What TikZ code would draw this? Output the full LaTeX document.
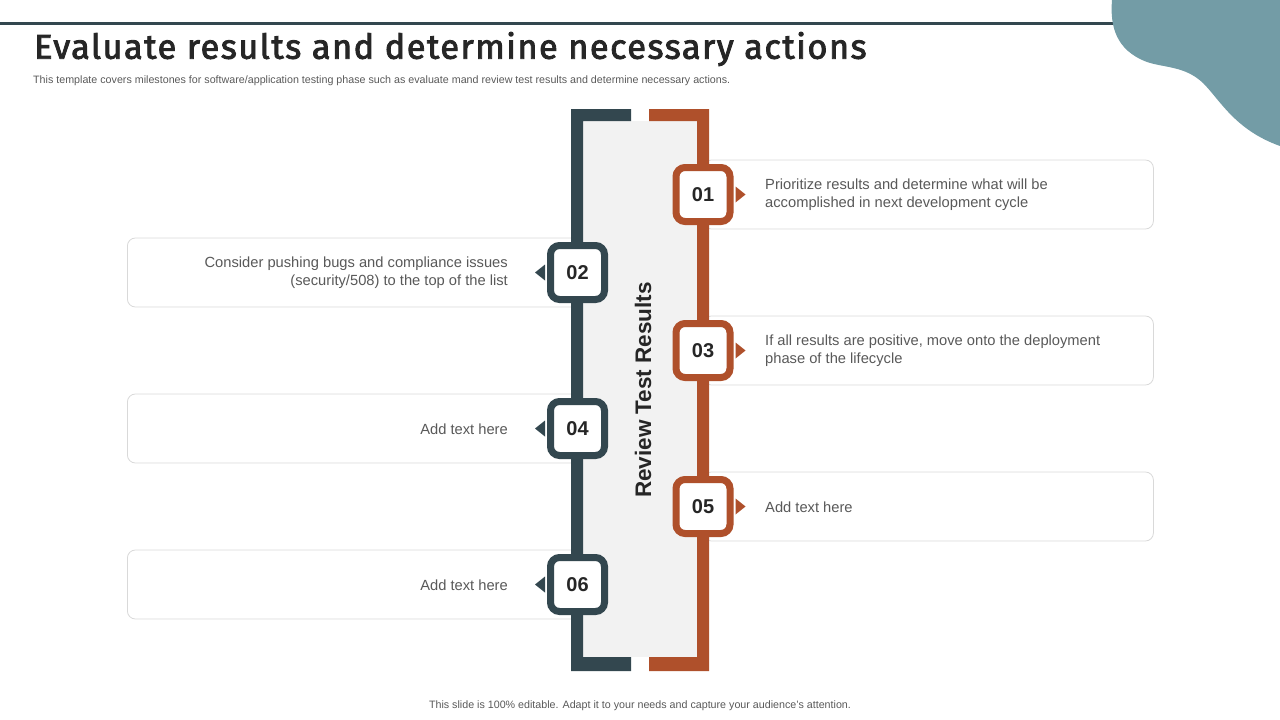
\documentclass[tikz,border=0pt]{standalone}
\usepackage{fontspec}
\setmainfont{Liberation Sans}
\newfontfamily\titlefont{Fira Sans}[LetterSpace=4.4,FakeBold=2.5]
\usetikzlibrary{positioning}
\definecolor{darkslate}{HTML}{33474F}
\definecolor{rust}{HTML}{AF502B}
\definecolor{blob}{HTML}{739CA6}
\definecolor{panel}{HTML}{F2F2F2}
\definecolor{boxline}{HTML}{D9D9D9}
\definecolor{bodytext}{HTML}{595959}
\definecolor{ink}{HTML}{262626}
\tikzset{
  x=1pt, y=-1pt,
  infobox/.style={draw=boxline, line width=0.8pt, fill=white, rounded corners=8pt,
    minimum height=69pt, inner sep=0pt, anchor=west},
  badge/.style={draw=#1, line width=7pt, fill=white, rounded corners=9pt,
    minimum width=54pt, minimum height=54pt, inner sep=0pt,
    font=\fontsize{20}{20}\selectfont\bfseries, text=ink},
  righttext/.style={anchor=west, align=left, text=bodytext, font=\fontsize{14.7}{18}\selectfont, inner sep=0pt},
  lefttext/.style={anchor=east, align=right, text=bodytext, font=\fontsize{14.7}{18}\selectfont, inner sep=0pt},
}
\begin{document}
\begin{tikzpicture}
\useasboundingbox (0,0) rectangle (1280,720);
% top rule and blob
\fill[darkslate] (0,21.5) rectangle (1120,24.5);
\fill[blob] (1112,0) .. controls (1110,25) and (1115,50) .. (1147,62)
  .. controls (1165,68) and (1185,66) .. (1203,83)
  .. controls (1220,100) and (1235,130) .. (1280,146) -- (1280,0) -- cycle;
% title and subtitle
\node[anchor=west, inner sep=0pt, text=ink, font=\titlefont\fontsize{34.3}{34}\selectfont] (title) at (34,49)
  {Evaluate results and determine necessary actions};
\node[anchor=west, inner sep=0pt, text=bodytext, font=\fontsize{10.7}{11}\selectfont] (subtitle) at (33,81)
  {This template covers milestones for software/application testing phase such as evaluate mand review test results and determine necessary actions.};
% info boxes
\node[infobox, minimum width=450pt] (b1) at (703,194.5) {};
\node[infobox, minimum width=450pt] (b3) at (703,350.5) {};
\node[infobox, minimum width=450pt] (b5) at (703,506.5) {};
\node[infobox, minimum width=455pt] (b2) at (127,272.5) {};
\node[infobox, minimum width=455pt] (b4) at (127,428.5) {};
\node[infobox, minimum width=455pt] (b6) at (127,584.5) {};
% panel
\fill[panel] (583,121) rectangle (697,657);
% brackets
\fill[darkslate] (571,109) -- (631,109) -- (631,121) -- (583,121) -- (583,657) -- (631,657) -- (631,671) -- (571,671) -- cycle;
\fill[rust] (649,109) -- (709,109) -- (709,671) -- (649,671) -- (649,657) -- (697,657) -- (697,121) -- (649,121) -- cycle;
% vertical label
\node[rotate=90, text=ink, font=\fontsize{22.5}{22.5}\selectfont\bfseries, inner sep=0pt] (label) at (643,390) {Review Test Results};
% badges
\node[badge=rust] (n1) at (703,194.5) {01};
\node[badge=darkslate] (n2) at (577.5,272.5) {02};
\node[badge=rust] (n3) at (703,350.5) {03};
\node[badge=darkslate] (n4) at (577.5,428.5) {04};
\node[badge=rust] (n5) at (703,506.5) {05};
\node[badge=darkslate] (n6) at (577.5,584.5) {06};
% pointers
\foreach \n in {n1,n3,n5}{
  \fill[rust] ([xshift=2pt,yshift=8pt]\n.east) -- ([xshift=12pt]\n.east) -- ([xshift=2pt,yshift=-8pt]\n.east) -- cycle;
}
\foreach \n in {n2,n4,n6}{
  \fill[darkslate] ([xshift=-2pt,yshift=8pt]\n.west) -- ([xshift=-12pt]\n.west) -- ([xshift=-2pt,yshift=-8pt]\n.west) -- cycle;
}
% texts
\node[righttext] (t1) at (765,195) {Prioritize results and determine what will be\\accomplished in next development cycle};
\node[righttext] (t3) at (765,351) {If all results are positive, move onto the deployment\\phase of the lifecycle};
\node[righttext] (t5) at (765,507) {Add text here};
\node[lefttext] (t2) at (508,273) {Consider pushing bugs and compliance issues\\(security/508) to the top of the list};
\node[lefttext] (t4) at (508,429) {Add text here};
\node[lefttext] (t6) at (508,585) {Add text here};
% footer
\node[text=bodytext, font=\fontsize{10.7}{11}\selectfont, inner sep=0pt] (footer) at (640,706)
  {This slide is 100\% editable. Adapt it to your needs and capture your audience's attention.};
\end{tikzpicture}
\end{document}
